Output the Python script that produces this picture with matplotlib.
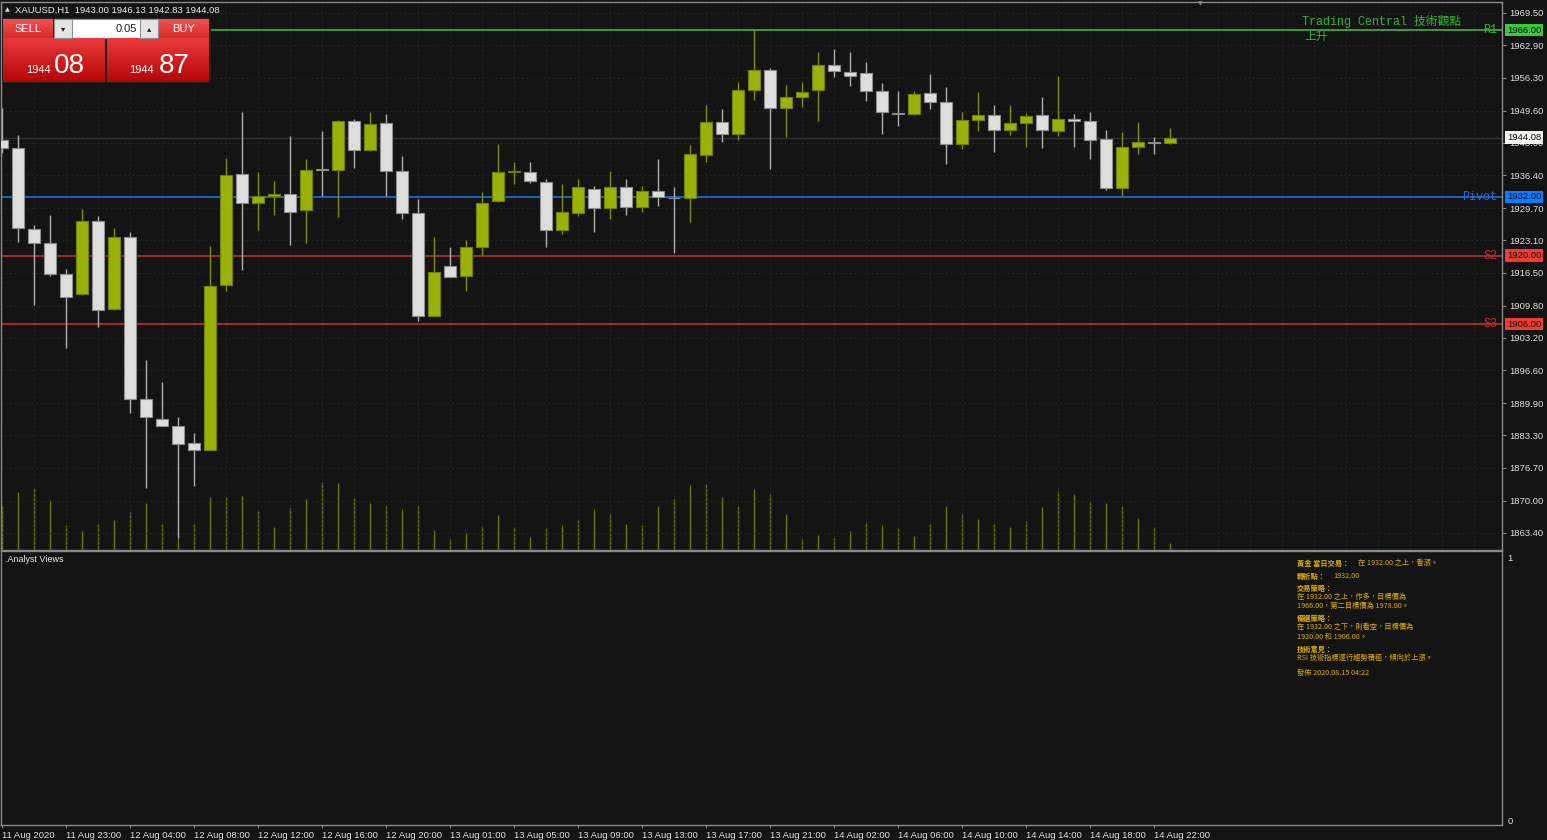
import matplotlib
matplotlib.use("Agg")
import matplotlib.pyplot as plt
import numpy as np
from matplotlib.patches import Rectangle
from matplotlib.transforms import blended_transform_factory as blend

# ---------------- data ----------------
opens = [1943.6, 1942.0, 1925.4, 1922.5, 1916.2, 1912.1, 1927.05, 1909.0, 1923.8, 1890.8,
         1886.7, 1885.2, 1881.8, 1880.4, 1914.1, 1936.6, 1930.8, 1932.2, 1932.5, 1929.2,
         1937.6, 1937.5, 1947.5, 1941.5, 1947.0, 1937.2, 1928.6, 1907.7, 1917.8, 1915.75,
         1921.7, 1931.1, 1937.1, 1937.1, 1934.95, 1925.3, 1928.6, 1933.5, 1929.8, 1933.9,
         1929.95, 1933.2, 1931.75, 1931.8, 1940.55, 1947.2, 1944.9, 1953.8, 1957.8, 1950.1,
         1952.3, 1953.8, 1958.9, 1957.5, 1957.3, 1953.5, 1949.1, 1948.95, 1953.1, 1951.3,
         1942.85, 1947.6, 1948.7, 1945.6, 1947.15, 1948.6, 1945.4, 1947.9, 1947.5, 1943.7,
         1933.8, 1942.2, 1943.1, 1943.00]
highs = [1950.1, 1944.6, 1926.2, 1928.3, 1917.2, 1929.6, 1928.0, 1925.7, 1924.75, 1898.75,
         1894.2, 1887.0, 1883.8, 1921.9, 1940.0, 1949.3, 1937.0, 1935.2, 1944.5, 1939.7,
         1945.4, 1947.6, 1947.95, 1949.3, 1948.8, 1940.3, 1931.5, 1923.7, 1921.7, 1923.1,
         1933.0, 1942.7, 1939.1, 1939.0, 1935.7, 1934.7, 1935.7, 1934.2, 1937.2, 1935.7,
         1934.2, 1939.7, 1934.0, 1942.6, 1950.75, 1950.0, 1955.4, 1966.2, 1958.3, 1954.8,
         1955.5, 1961.5, 1962.2, 1961.5, 1959.4, 1955.3, 1953.6, 1953.6, 1957.1, 1954.3,
         1949.3, 1953.3, 1950.75, 1950.75, 1949.0, 1952.4, 1956.6, 1948.95, 1949.2, 1945.6,
         1945.15, 1947.2, 1944.1, 1946.13]
lows = [1941.0, 1922.7, 1910.0, 1915.8, 1901.2, 1911.9, 1905.4, 1908.9, 1887.8, 1872.5,
        1885.2, 1862.3, 1873.0, 1880.3, 1912.7, 1917.0, 1925.3, 1928.3, 1922.2, 1922.6,
        1932.1, 1927.8, 1937.9, 1941.4, 1932.1, 1927.5, 1906.65, 1907.6, 1915.6, 1912.7,
        1920.1, 1931.0, 1934.7, 1934.8, 1921.7, 1924.5, 1928.0, 1924.9, 1927.4, 1928.3,
        1928.8, 1930.1, 1920.6, 1926.8, 1939.0, 1943.1, 1943.6, 1951.7, 1937.7, 1944.1,
        1950.4, 1947.5, 1956.5, 1954.55, 1951.5, 1944.9, 1946.5, 1948.6, 1950.0, 1938.75,
        1941.8, 1945.4, 1941.05, 1944.7, 1942.1, 1942.0, 1944.3, 1942.1, 1939.7, 1933.4,
        1932.2, 1940.8, 1940.8, 1942.83]
closes = [1942.0, 1925.6, 1922.6, 1916.3, 1911.6, 1927.05, 1908.95, 1923.8, 1890.8, 1887.0,
          1885.25, 1881.5, 1880.4, 1913.8, 1936.5, 1930.8, 1932.2, 1932.5, 1928.8, 1937.5,
          1937.5, 1947.5, 1941.5, 1946.9, 1937.2, 1928.6, 1907.7, 1916.6, 1915.7, 1921.7,
          1930.7, 1937.0, 1937.15, 1935.3, 1925.25, 1928.8, 1933.9, 1929.8, 1933.9, 1929.9,
          1933.1, 1931.9, 1931.65, 1940.8, 1947.2, 1944.9, 1953.8, 1957.8, 1950.1, 1952.4,
          1953.3, 1958.9, 1957.6, 1956.7, 1953.5, 1949.2, 1948.9, 1953.05, 1951.4, 1942.85,
          1947.6, 1948.7, 1945.6, 1947.15, 1948.45, 1945.7, 1947.9, 1947.45, 1943.6, 1933.8,
          1942.1, 1943.1, 1943.0, 1944.08]
volumes = [5080, 6560, 7000, 5680, 2880, 2160, 3000, 3400, 4280, 5360,
           3000, 1360, 2960, 6000, 6000, 6080, 4400, 2600, 4800, 5760,
           7680, 7600, 5880, 5360, 5160, 4680, 5160, 2240, 1280, 1880,
           2760, 4000, 2560, 1480, 2480, 2800, 3400, 4640, 4200, 3000,
           2880, 5000, 5840, 7360, 7520, 6040, 5040, 6960, 6400, 4080,
           1200, 1680, 1400, 2200, 3200, 2840, 2480, 1600, 2960, 5000,
           4240, 3520, 3000, 2640, 3320, 4840, 6680, 6360, 5480, 5360,
           5000, 3680, 2560, 800]

time_labels = ["11 Aug 2020", "11 Aug 23:00", "12 Aug 04:00", "12 Aug 08:00", "12 Aug 12:00",
               "12 Aug 16:00", "12 Aug 20:00", "13 Aug 01:00", "13 Aug 05:00", "13 Aug 09:00",
               "13 Aug 13:00", "13 Aug 17:00", "13 Aug 21:00", "14 Aug 02:00", "14 Aug 06:00",
               "14 Aug 10:00", "14 Aug 14:00", "14 Aug 18:00", "14 Aug 22:00"]
price_ticks = [1969.50, 1962.90, 1956.30, 1949.60, 1943.00, 1936.40, 1929.70, 1923.10, 1916.50,
               1909.80, 1903.20, 1896.60, 1889.90, 1883.30, 1876.70, 1870.00, 1863.40]
level_names = ["R1", "Pivot", "S2", "S3"]
level_values = [1966.00, 1932.00, 1920.00, 1906.00]
bid = 1944.08
ask = 1944.87
lot = 0.05
symbol = "XAUUSD,H1"

# ---------------- style ----------------
BG = "#141414"
GRID = "#2a2a2a"
AX_COL = "#8a8a8a"
TXT = "#e0e0e0"
UP_FILL, UP_EDGE, UP_WICK = "#9ab10b", "#6f8000", "#7d9000"
DN_FILL, DN_EDGE, DN_WICK = "#dedede", "#8e8e8e", "#b0b0b0"
VOL_COL = "#687a00"
LINE_COLS = ["#46c046", "#1e78e6", "#c83030", "#c83030"]
TAG_COLS = ["#3cc83c", "#0a7cff", "#f03c32", "#f03c32"]
LBL_COLS = ["#36b436", "#1e6ee6", "#c83232", "#c83232"]
GOLD = "#e0b000"

plt.rcParams['font.family'] = ['Liberation Sans', 'DejaVu Sans']
W, H = 1547, 840
fig = plt.figure(figsize=(W / 100, H / 100), dpi=100, facecolor=BG)


def rect(x0, y0, x1, y1):
    return [x0 / W, 1 - y1 / H, (x1 - x0) / W, (y1 - y0) / H]


n = len(opens)
x = np.arange(n)
o = np.array(opens); c = np.array(closes); hi = np.array(highs); lo = np.array(lows)
up = c >= o

XLIM = (-0.08, 93.73)
YLIM = (1859.93, 1971.74)

# volume axes (behind)
vax = fig.add_axes(rect(1, 2, 1502, 550), zorder=0)
vax.set_facecolor(BG)
vax.vlines(x, 0, volumes, colors=VOL_COL, lw=1)
vax.set_xlim(*XLIM)
vax.set_ylim(0, max(volumes) * 8.1)
vax.axis('off')

# main price axes
ax = fig.add_axes(rect(1, 2, 1502, 550), zorder=1)
ax.patch.set_visible(False)
ax.set_xlim(*XLIM)
ax.set_ylim(*YLIM)
for yv in price_ticks:
    ax.axhline(yv, color=GRID, lw=0.7, ls=(0, (1.5, 3)), zorder=0)
for xv in np.arange(0, 94, 2):
    ax.axvline(xv, color=GRID, lw=0.7, ls=(0, (1.5, 3)), zorder=0)

ax.axhline(bid, color="#303030", lw=1, zorder=0.5)
for val, col in zip(level_values, LINE_COLS):
    ax.axhline(val, color=col, lw=1.1, zorder=1)

ax.vlines(x, lo, hi, colors=np.where(up, UP_WICK, DN_WICK), lw=1, zorder=2)
body_bottom = np.minimum(o, c)
body_h = np.maximum(np.abs(c - o), 0.12)
ax.bar(x, body_h, bottom=body_bottom, width=0.75,
       color=np.where(up, UP_FILL, DN_FILL), edgecolor=np.where(up, UP_EDGE, DN_EDGE),
       linewidth=0.8, zorder=3)

ax.set_xticks([])
ax.yaxis.tick_right()
ax.set_yticks(price_ticks, [f"{p:.2f}" for p in price_ticks])
ax.tick_params(axis='y', length=3, color=AX_COL, labelsize=6.8, labelcolor=TXT, pad=2)
for s in ax.spines.values():
    s.set_color(AX_COL)
    s.set_linewidth(1)

tr = blend(ax.transAxes, ax.transData)
for name, val, lc, tc in zip(level_names, level_values, LBL_COLS, TAG_COLS):
    ax.text(0.9967, val, name, transform=tr, ha='right', va='center', color=lc,
            fontsize=8.5, family=['Liberation Mono', 'DejaVu Sans Mono'], zorder=6)
    ax.text(1.0033, val, f"{val:.2f}", transform=tr, ha='left', va='center', color="#101010",
            fontsize=6.8, clip_on=False, zorder=20,
            bbox=dict(boxstyle='square,pad=0.18', fc=tc, ec='none'))
ax.text(1.0033, bid, f"{bid:.2f}", transform=tr, ha='left', va='center', color="#101010",
        fontsize=6.8, clip_on=False, zorder=20,
        bbox=dict(boxstyle='square,pad=0.18', fc="#f4f4ee", ec='none'))

# lower panel
ax2 = fig.add_axes(rect(1, 551, 1502, 825), zorder=1)
ax2.set_facecolor(BG)
ax2.set_xlim(*XLIM)
ax2.set_ylim(-0.019, 1.0267)
ax2.set_xticks(np.arange(0, 4 * len(time_labels), 4), time_labels, ha='left')
ax2.tick_params(axis='x', length=2, color=AX_COL, labelsize=6.8, labelcolor=TXT, pad=2)
ax2.yaxis.tick_right()
ax2.set_yticks([0, 1], ["0", "1"])
ax2.tick_params(axis='y', length=0, labelsize=6.8, labelcolor=TXT, pad=4)
for s in ax2.spines.values():
    s.set_color(AX_COL)
    s.set_linewidth(1)

# overlay in pixel coordinates
ov = fig.add_axes([0, 0, 1, 1], zorder=5)
ov.set_xlim(0, W)
ov.set_ylim(H, 0)
ov.patch.set_visible(False)
ov.axis('off')


def grad(x0, y0, x1, y1, ctop, cbot):
    ct = np.array(matplotlib.colors.to_rgb(ctop))
    cb = np.array(matplotlib.colors.to_rgb(cbot))
    t = np.linspace(0, 1, 64)[:, None, None]
    img = ct * (1 - t) + cb * t
    ov.imshow(img, extent=(x0, x1, y1, y0), aspect='auto', zorder=6, interpolation='bilinear')


# header
ov.text(5, 9.5, "▲", fontsize=4.5, color="#e0e0e0", va='center', ha='left', family='DejaVu Sans')
ov.text(15, 10, f"{symbol}  {opens[-1]:.2f} {highs[-1]:.2f} {lows[-1]:.2f} {closes[-1]:.2f}",
        fontsize=6.8, color="#ececec", va='center', ha='left')
ov.text(1200, 4, "▼", fontsize=4.5, color="#8a8a8a", va='center', ha='center', family='DejaVu Sans')

# trade panel
ov.add_patch(Rectangle((2, 18), 209, 65, fc="#202020", ec='none', zorder=5))
grad(3, 19, 53, 38, "#f25252", "#d62c2c")
grad(159, 19, 209, 38, "#f25252", "#d62c2c")
ov.add_patch(Rectangle((54, 19), 104, 19, fc="#ffffff", ec="#909090", lw=0.8, zorder=6))
ov.add_patch(Rectangle((54, 19), 18, 19, fc="#e4e4e4", ec="#909090", lw=0.8, zorder=7))
ov.add_patch(Rectangle((140, 19), 18, 19, fc="#e4e4e4", ec="#909090", lw=0.8, zorder=7))
ov.text(63, 29, "▾", fontsize=6, color="#202020", ha='center', va='center', zorder=8, family='DejaVu Sans')
ov.text(149, 29, "▴", fontsize=6, color="#202020", ha='center', va='center', zorder=8, family='DejaVu Sans')
ov.text(137, 29.5, f"{lot:.2f}", fontsize=8, color="#202020", ha='right', va='center', zorder=8)
ov.text(28, 29.5, "SELL", fontsize=8, color="#ffffff", ha='center', va='center', zorder=8)
ov.text(184, 29.5, "BUY", fontsize=8, color="#ffffff", ha='center', va='center', zorder=8)
grad(3, 38, 105, 82, "#e83a3a", "#b40606")
grad(107, 38, 209, 82, "#e83a3a", "#b40606")
for xs, xb, price in [(26, 54, bid), (129, 159, ask)]:
    s = f"{price:.2f}"
    big, small = s.split(".")
    ov.text(xs, 73, big, fontsize=8, color="#ffffff", ha='left', va='baseline', zorder=8)
    ov.text(xb, 73, small, fontsize=20, color="#ffffff", ha='left', va='baseline', zorder=8)

# Trading Central annotation
mono = ['Liberation Mono', 'Noto Sans CJK TC', 'DejaVu Sans']
ov.text(1302, 21, "Trading Central 技術觀點", fontsize=8.5, color="#36b436", family=mono,
        ha='left', va='center')
ov.text(1304, 37, "上升", fontsize=8.5, color="#36b436", family=mono, ha='left', va='center')

# Analyst views panel
ov.text(5, 559, ".Analyst Views", fontsize=6.5, color="#e8e8e8", ha='left', va='center')
cjk = ['Noto Sans CJK TC', 'DejaVu Sans']
lines = [
    (1297, 563, "黃金 當日交易：", 'bold'), (1358, 563, "在 1932.00 之上，看漲。", 'normal'),
    (1297, 576, "轉折點：", 'bold'), (1333, 576, "1932.00", 'normal'),
    (1297, 588, "交易策略：", 'bold'),
    (1297, 597, "在 1932.00 之上，作多，目標價為", 'normal'),
    (1297, 606, "1966.00，第二目標價為 1978.00。", 'normal'),
    (1297, 618, "備選策略：", 'bold'),
    (1297, 627, "在 1932.00 之下，則看空，目標價為", 'normal'),
    (1297, 637, "1920.00 和 1906.00。", 'normal'),
    (1297, 649, "技術意見：", 'bold'),
    (1297, 658, "RSI 技術指標運行趨勢積極，傾向於上漲。", 'normal'),
    (1297, 673, "發佈 2020.08.15 04:22", 'normal'),
]
for lx, ly, s, w in lines:
    ov.text(lx, ly, s, fontsize=5.2, color=GOLD, family=cjk, weight=w, ha='left', va='center')

fig.savefig("out.png", dpi=100, facecolor=BG)
